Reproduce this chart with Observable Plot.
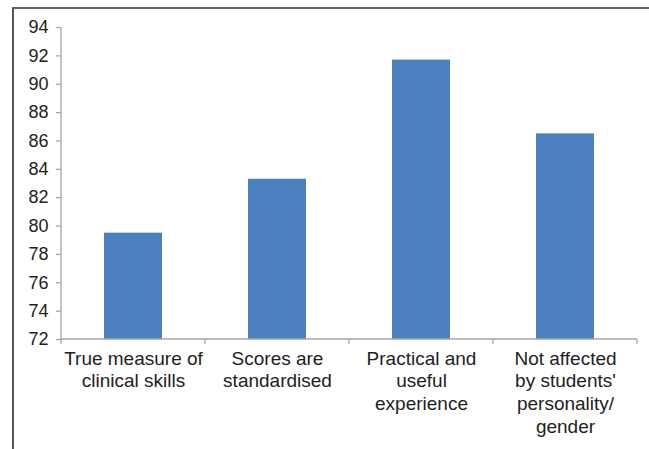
<!DOCTYPE html>
<html>
<head>
<meta charset="utf-8">
<script src="https://cdn.jsdelivr.net/npm/d3@7"></script>
<script src="https://cdn.jsdelivr.net/npm/@observablehq/plot@0.6"></script>
<style>
  html, body { margin: 0; padding: 0; background: #fff; overflow: hidden; }
  #wrap { position: relative; width: 649px; height: 449px; }
  #frame { position: absolute; left: 12px; top: 7px; width: 700px; height: 500px;
           border-left: 2px solid #555; border-top: 2px solid #666; pointer-events: none; }
</style>
</head>
<body>
<div id="wrap"><div id="frame"></div></div>
<script>
const categories = ["True measure of clinical skills", "Scores are standardised", "Practical and useful experience", "Not affected by students' personality/ gender"];
const labels = ["True measure of\nclinical skills", "Scores are\nstandardised", "Practical and\nuseful\nexperience", "Not affected\nby students'\npersonality/\ngender"];
const values = [79.5, 83.3, 91.7, 86.5];
const yTicks = [72, 74, 76, 78, 80, 82, 84, 86, 88, 90, 92, 94];

const data = categories.map((c, i) => ({category: c, value: values[i]}));
const labelOf = new Map(categories.map((c, i) => [c, labels[i]]));

function boundaryTicks(index, scales, values, dims) {
  const g = d3.create("svg:g");
  const x = scales.x, bw = x.bandwidth();
  const y0 = dims.height - dims.marginBottom;
  const xs = categories.map(c => x(c)).concat([x(categories[categories.length - 1]) + bw]);
  for (const xv of xs) {
    g.append("line").attr("x1", xv).attr("x2", xv).attr("y1", y0).attr("y2", y0 + 5)
      .attr("stroke", "#a6a6a6").attr("stroke-width", 1.3);
  }
  g.append("line").attr("x1", xs[0]).attr("x2", xs[xs.length - 1]).attr("y1", y0).attr("y2", y0)
    .attr("stroke", "#a6a6a6").attr("stroke-width", 1.3);
  g.append("line").attr("x1", xs[0]).attr("x2", xs[0]).attr("y1", dims.marginTop).attr("y2", y0)
    .attr("stroke", "#a6a6a6").attr("stroke-width", 1.3);
  return g.node();
}

const chart = Plot.plot({
  width: 649,
  height: 449,
  marginLeft: 61,
  marginRight: 12,
  marginTop: 27,
  marginBottom: 110,
  style: {fontFamily: "'Liberation Sans', Arial, sans-serif", fontSize: "19px", color: "#222", background: "transparent"},
  x: {domain: categories, padding: 0},
  y: {domain: [72, 94], ticks: yTicks},
  marks: [
    Plot.barY(data, {x: "category", y1: 72, y2: "value", fill: "#4a80bf", insetLeft: 43, insetRight: 43}),
    Plot.axisY({ticks: yTicks, tickSize: 5, tickPadding: 8, stroke: "#a6a6a6", strokeWidth: 1.3, fill: "#222", fontSize: 18, label: null}),
    Plot.axisX({tickSize: 0, tickPadding: 9, tickFormat: c => labelOf.get(c), fill: "#222", fontSize: 19, lineHeight: 1.2, label: null}),
    boundaryTicks
  ]
});
document.getElementById("wrap").prepend(chart);
</script>
</body>
</html>
